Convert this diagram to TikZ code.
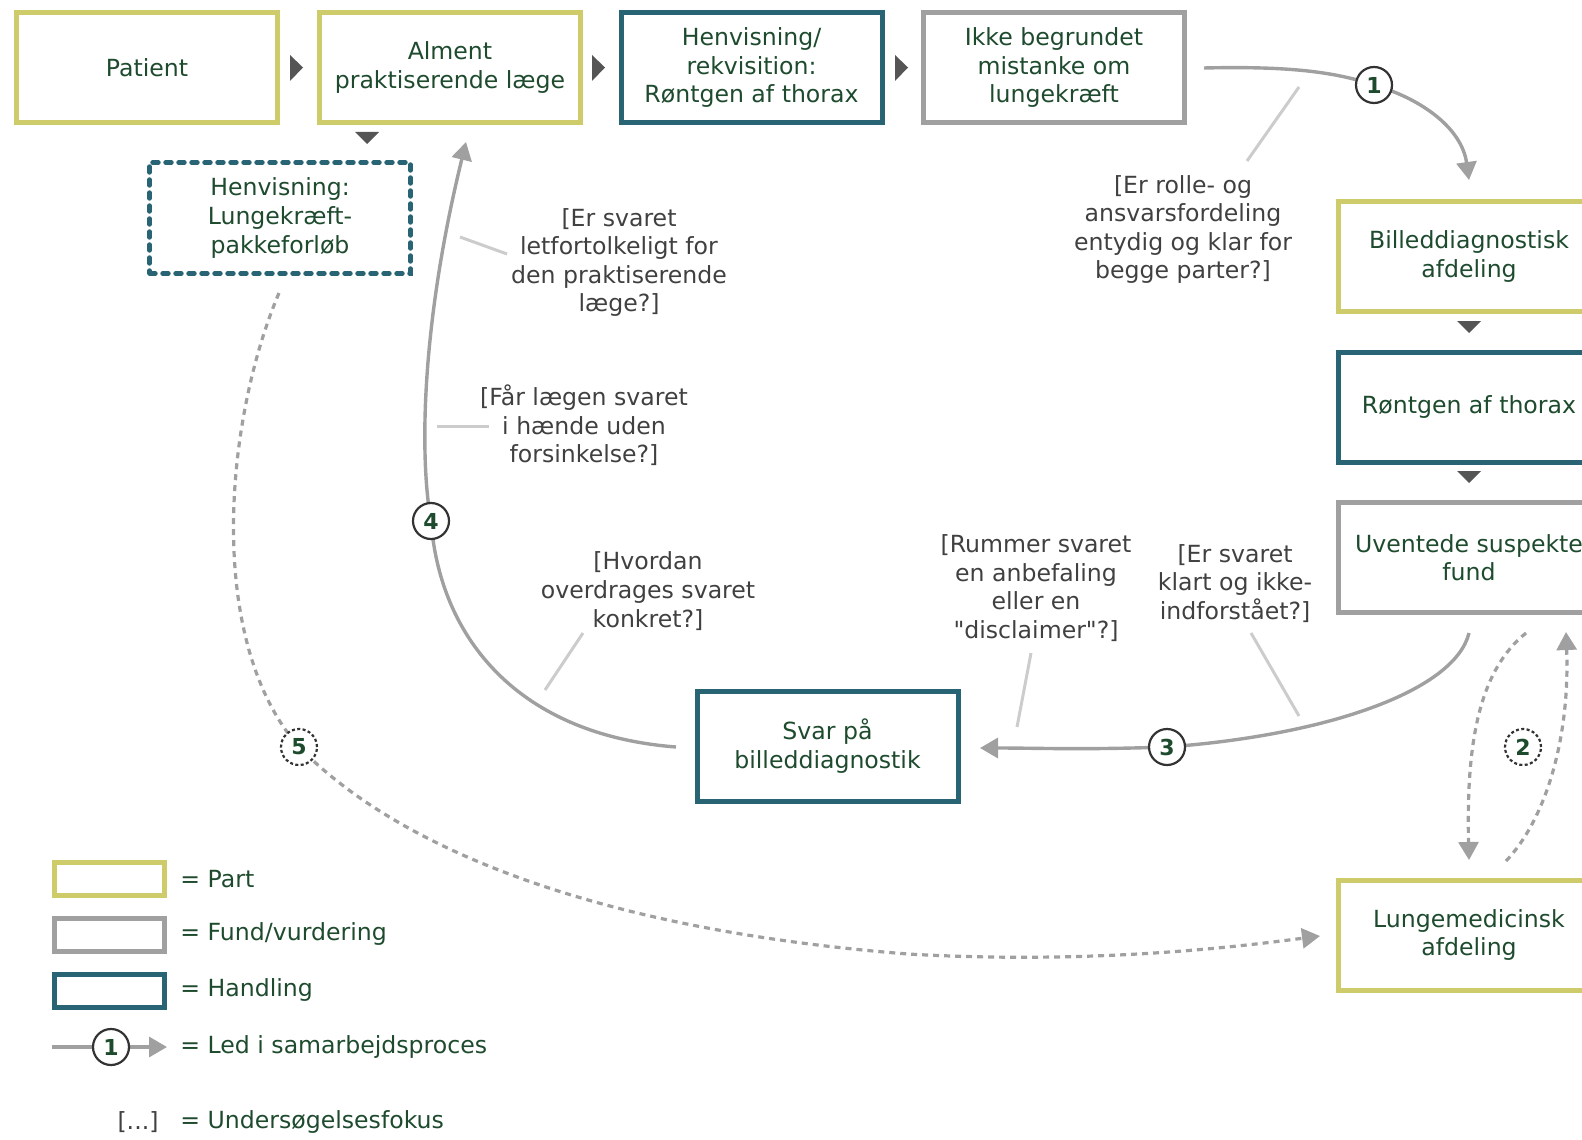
\documentclass[tikz,border=0pt]{standalone}
\usepackage{fontspec}
\setmainfont{DejaVu Sans}[Ligatures=TeXOff]
\usetikzlibrary{arrows.meta}
\definecolor{partc}{HTML}{CDCB6A}
\definecolor{fundc}{HTML}{A0A0A0}
\definecolor{handc}{HTML}{286473}
\definecolor{txtc}{HTML}{1E4B2E}
\definecolor{qc}{HTML}{404040}
\definecolor{conc}{HTML}{A0A0A0}
\definecolor{leadc}{HTML}{CCCCCC}
\definecolor{trc}{HTML}{555555}
\definecolor{circc}{HTML}{333333}
\begin{document}
\begin{tikzpicture}[x=0.5pt,y=-0.5pt,
  mainfont/.style={font=\fontsize{11.8}{14.3}\selectfont},
  box/.style={draw, line width=2.5pt, minimum width=130.5pt, minimum height=55pt, inner sep=0pt, align=center, text=txtc, mainfont, fill=white},
  partbox/.style={box, draw=partc},
  fundbox/.style={box, draw=fundc},
  handbox/.style={box, draw=handc},
  legbox/.style={draw, line width=2.5pt, minimum width=55pt, minimum height=16.5pt, inner sep=0pt, fill=white},
  qtext/.style={align=center, text=qc, inner sep=0pt, mainfont},
  legtext/.style={anchor=west, text=txtc, inner sep=0pt, mainfont},
  leader/.style={draw=leadc, line width=1.5pt},
  tip/.style={-{Triangle[length=9pt,width=10pt]}},
  numc/.style={circle, draw=circc, line width=1.1pt, fill=white, minimum size=18pt, inner sep=0pt, text=txtc, font=\bfseries\fontsize{11}{12}\selectfont},
  dnumc/.style={numc, dash pattern=on 1.5pt off 1.2pt},
  tri/.style={fill=trc, draw=none}
]
\useasboundingbox (0,0) rectangle (1582,1139);
\clip (0,0) rectangle (1582,1139);

% boxes
\node[partbox] (patient) at (147,67.5) {Patient};
\node[partbox] (alment) at (450,67.5) {Alment\\praktiserende læge};
\node[handbox] (henv) at (751.5,67.5) {Henvisning/\\rekvisition:\\Røntgen af thorax};
\node[fundbox] (ikke) at (1054,67.5) {Ikke begrundet\\mistanke om\\lungekræft};
\node[box, draw=handc, line width=2.2pt, dash pattern=on 3pt off 3.5pt, line cap=round, minimum height=55.5pt] (pakke) at (280,218) {Henvisning:\\Lungekræft-\\pakkeforløb};
\node[partbox] (billed) at (1469,256.5) {Billeddiagnostisk\\afdeling};
\node[handbox] (rontgen) at (1469,407) {Røntgen af thorax};
\node[fundbox] (uvent) at (1469,557.5) {Uventede suspekte\\fund};
\node[partbox] (lunge) at (1469,935) {Lungemedicinsk\\afdeling};
\node[handbox] (svar) at (827.5,746) {Svar på\\billeddiagnostik};

% small triangles between boxes
\fill[tri] (290,55) -- (303,67.5) -- (290,81) -- cycle;
\fill[tri] (592,55) -- (605,67.5) -- (592,81) -- cycle;
\fill[tri] (895,55) -- (908,67.5) -- (895,81) -- cycle;
\fill[tri] (355,132) -- (379,132) -- (367,144) -- cycle;
\fill[tri] (1457,321) -- (1481,321) -- (1469,333) -- cycle;
\fill[tri] (1457,471) -- (1481,471) -- (1469,483) -- cycle;

% circle positions
\coordinate (p1) at (1374,85);
\coordinate (p2) at (1523,747);
\coordinate (p3) at (1167,747);
\coordinate (p4) at (431,521);
\coordinate (p5) at (299,747);
\coordinate (s1) at (1204,68);
\coordinate (e1) at (1469,180);
\coordinate (s3) at (1469,633);
\coordinate (e3) at (980,748);
\coordinate (s4) at (676,747);
\coordinate (e4) at (466,142);
\coordinate (s5) at (279,293);
\coordinate (m5) at (908,954);
\coordinate (e5) at (1320,936);
\coordinate (s2a) at (1526,633);
\coordinate (e2a) at (1469,860);
\coordinate (s2b) at (1506,861);
\coordinate (e2b) at (1566,632);

% connectors
\draw[conc, line width=1.7pt, tip] (s1) .. controls (1290,66) and (1335,72) .. (p1) .. controls (1425,100) and (1462,130) .. (e1);
\draw[conc, line width=1.7pt, tip] (s3) .. controls (1455,690) and (1330,735) .. (p3) .. controls (1080,750) and (1040,748) .. (e3);
\draw[conc, line width=1.7pt, tip] (s4) .. controls (520,735) and (440,640) .. (p4) .. controls (420,460) and (420,330) .. (e4);
\draw[conc, line width=1.6pt, dash pattern=on 3pt off 2.5pt, tip] (s5) .. controls (225,420) and (205,640) .. (p5) .. controls (400,850) and (600,930) .. (m5) .. controls (1100,965) and (1250,945) .. (e5);
\draw[conc, line width=1.6pt, dash pattern=on 3pt off 2.5pt, tip] (s2a) .. controls (1480,670) and (1466,740) .. (e2a);
\draw[conc, line width=1.6pt, dash pattern=on 3pt off 2.5pt, tip] (s2b) .. controls (1545,820) and (1570,740) .. (e2b);

% circles
\node[numc] (c1) at (p1) {1};
\node[dnumc] (c2) at (p2) {2};
\node[numc] (c3) at (p3) {3};
\node[numc] (c4) at (p4) {4};
\node[dnumc] (c5) at (p5) {5};

% questions
\node[qtext] (q1) at (619,262.5) {[Er svaret\\letfortolkeligt for\\den praktiserende\\læge?]};
\node[qtext] (q2) at (584,425.5) {[Får lægen svaret\\i hænde uden\\forsinkelse?]};
\node[qtext] (q3) at (648,591) {[Hvordan\\overdrages svaret\\konkret?]};
\node[qtext] (q4) at (1036,588) {[Rummer svaret\\en anbefaling\\eller en\\"disclaimer"?]};
\node[qtext] (q5) at (1235,583.5) {[Er svaret\\klart og ikke-\\indforstået?]};
\node[qtext] (q6) at (1183,229.5) {[Er rolle- og\\ansvarsfordeling\\entydig og klar for\\begge parter?]};

% leaders
\coordinate (l1a) at (460,237); \coordinate (l1b) at (507,254);
\coordinate (l2a) at (437,426); \coordinate (l2b) at (489,426);
\coordinate (l3a) at (583,633); \coordinate (l3b) at (545,690);
\coordinate (l4a) at (1031,653); \coordinate (l4b) at (1017,727);
\coordinate (l5a) at (1251,633); \coordinate (l5b) at (1299,716);
\coordinate (l6a) at (1299,87); \coordinate (l6b) at (1247,161);
\draw[leader] (l1a) -- (l1b);
\draw[leader] (l2a) -- (l2b);
\draw[leader] (l3a) -- (l3b);
\draw[leader] (l4a) -- (l4b);
\draw[leader] (l5a) -- (l5b);
\draw[leader] (l6a) -- (l6b);

% legend
\node[legbox, draw=partc] (lg1) at (109.5,878.5) {};
\node[legbox, draw=fundc] (lg2) at (109.5,935) {};
\node[legbox, draw=handc] (lg3) at (109.5,990.5) {};
\node[legtext] (lt1) at (180,879) {= Part};
\node[legtext] (lt2) at (180,934) {= Fund/vurdering};
\node[legtext] (lt3) at (180,990) {= Handling};
\node[legtext] (lt4) at (180,1047) {= Led i samarbejdsproces};
\node[legtext] (lt5) at (180,1122) {= Undersøgelsesfokus};
\node[qtext] (lt6) at (138,1122) {[...]};
\coordinate (lgs) at (52,1047);
\coordinate (lgc) at (111,1047);
\coordinate (lge) at (167,1047);
\draw[conc, line width=1.7pt, tip] (lgs) -- (lgc) -- (lge);
\node[numc] (c0) at (lgc) {1};
\end{tikzpicture}
\end{document}
